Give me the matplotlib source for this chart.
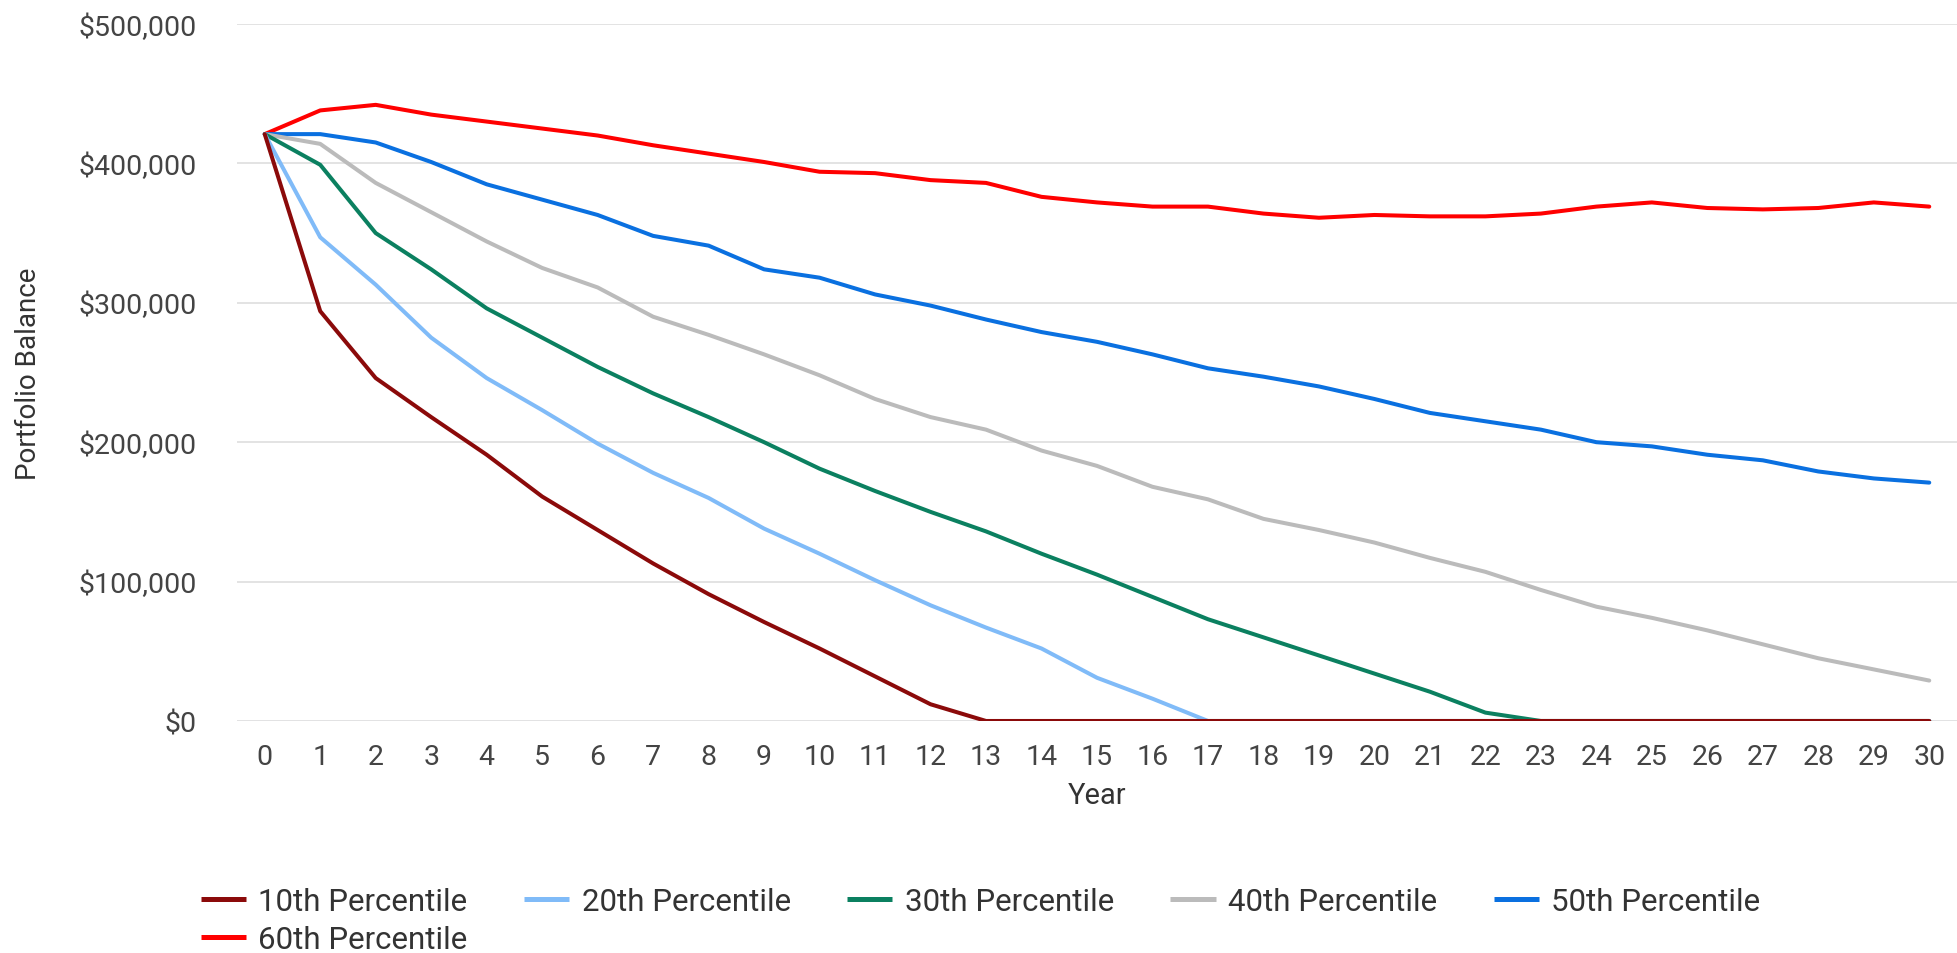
import matplotlib
matplotlib.use("Agg")
import matplotlib.pyplot as plt
from matplotlib.ticker import FuncFormatter

# Portfolio balance by year, in thousands of dollars
years = list(range(0, 31))
p10 = [421, 294, 246, 218, 191, 161, 137, 113, 91, 71, 52, 32, 12, 0, 0, 0,
       0, 0, 0, 0, 0, 0, 0, 0, 0, 0, 0, 0, 0, 0, 0]
p20 = [421, 347, 313, 275, 246, 223, 199, 178, 160, 138, 120, 101, 83, 67, 52, 31,
       16, 0, 0, 0, 0, 0, 0, 0, 0, 0, 0, 0, 0, 0, 0]
p30 = [421, 399, 350, 324, 296, 275, 254, 235, 218, 200, 181, 165, 150, 136, 120, 105,
       89, 73, 60, 47, 34, 21, 6, 0, 0, 0, 0, 0, 0, 0, 0]
p40 = [421, 414, 386, 365, 344, 325, 311, 290, 277, 263, 248, 231, 218, 209, 194, 183,
       168, 159, 145, 137, 128, 117, 107, 94, 82, 74, 65, 55, 45, 37, 29]
p50 = [421, 421, 415, 401, 385, 374, 363, 348, 341, 324, 318, 306, 298, 288, 279, 272,
       263, 253, 247, 240, 231, 221, 215, 209, 200, 197, 191, 187, 179, 174, 171]
p60 = [421, 438, 442, 435, 430, 425, 420, 413, 407, 401, 394, 393, 388, 386, 376, 372,
       369, 369, 364, 361, 363, 362, 362, 364, 369, 372, 368, 367, 368, 372, 369]

series = [
    ("10th Percentile", p10, "#8b0a0a"),
    ("20th Percentile", p20, "#80bbf8"),
    ("30th Percentile", p30, "#0b8060"),
    ("40th Percentile", p40, "#bbbbbb"),
    ("50th Percentile", p50, "#0a70e0"),
    ("60th Percentile", p60, "#ff0000"),
]

plt.rcParams['font.family'] = ['Roboto', 'DejaVu Sans']

fig = plt.figure(figsize=(19.57, 9.54), dpi=100)
ax = fig.add_axes([0.1211, 0.2432, 0.8789, 0.7306])

# draw in reverse order so the lower percentiles sit on top
handles = {}
for name, vals, color in reversed(series):
    h, = ax.plot(years, [v * 1000 for v in vals], color=color, lw=2.9,
                 solid_joinstyle='round', solid_capstyle='round', zorder=3)
    handles[name] = h

ax.set_xlim(-0.5, 30.5)
ax.set_ylim(0, 500000)
ax.set_xticks(years)
ax.set_yticks(range(0, 500001, 100000))
ax.yaxis.set_major_formatter(FuncFormatter(lambda v, p: "${:,.0f}".format(v)))

ax.grid(axis='y', color='#e3e3e3', lw=1.4, zorder=0)
ax.axhline(0, color='#ccd4ea', lw=1.8, zorder=1)
for s in ax.spines.values():
    s.set_visible(False)
ax.tick_params(axis='both', length=0, labelsize=20.5, labelcolor='#444444')
ax.tick_params(axis='y', pad=29)
ax.tick_params(axis='x', pad=16)

ax.set_xlabel("Year", fontsize=21, color='#333333', labelpad=8)
ax.set_ylabel("Portfolio Balance", fontsize=20, color='#333333', labelpad=26)

# matplotlib fills legend columns first, so order entries to get rows like the original
names = [s[0] for s in series]
order = [names[0], names[5], names[1], names[2], names[3], names[4]]
leg = fig.legend([handles[n] for n in order], order, loc='upper left',
                 bbox_to_anchor=(0.1025, 0.0695), ncol=5, frameon=False,
                 fontsize=22.5, handlelength=1.45, handletextpad=0.4,
                 columnspacing=1.8, labelspacing=0.3, borderpad=0,
                 borderaxespad=0)
for line in leg.get_lines():
    line.set_linewidth(3.6)
    line.set_solid_capstyle('butt')
for t in leg.get_texts():
    t.set_color('#333333')

fig.savefig("out.png", dpi=100)
